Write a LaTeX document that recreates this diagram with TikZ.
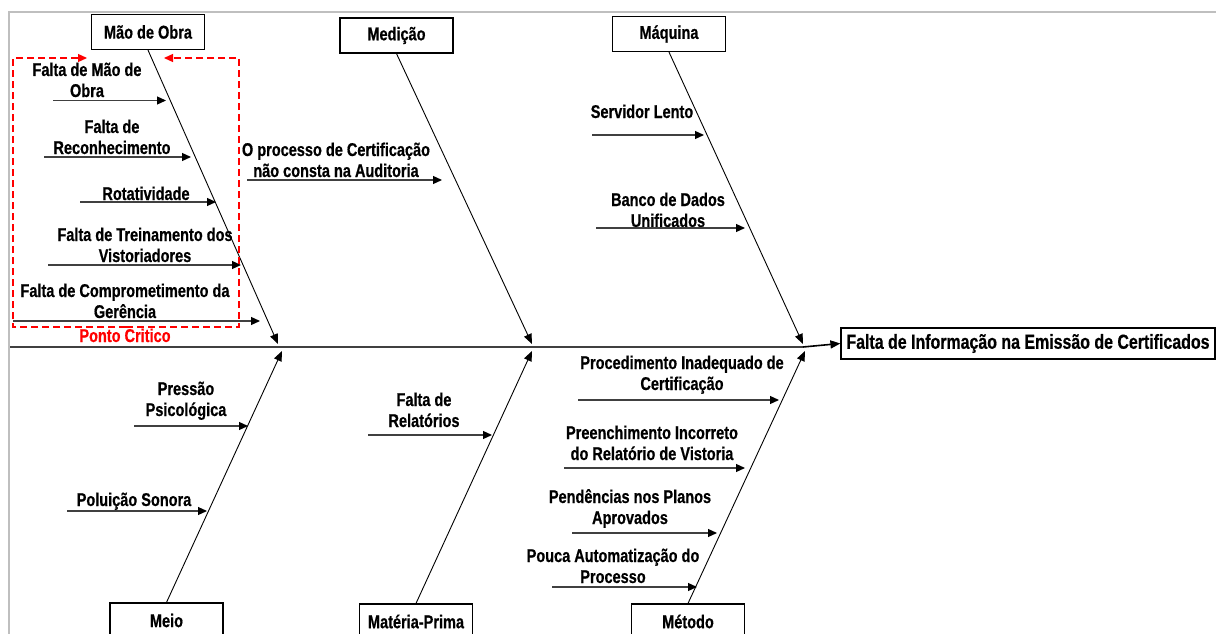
\documentclass[tikz,border=0pt]{standalone}
\usepackage{fontspec}
\setmainfont{Liberation Sans}[FakeStretch=0.78, BoldFont={Liberation Sans Bold}, BoldFeatures={FakeStretch=0.785, FakeBold=0.6}]
\usetikzlibrary{arrows.meta,positioning}

\tikzset{
  categ/.style={draw, line width=1.2pt, minimum width=113pt, minimum height=35pt, inner sep=2pt, font=\bfseries\fontsize{18.5}{21}\selectfont},
  efeito/.style={draw, line width=1.2pt, minimum width=374pt, minimum height=31pt, inner sep=2pt, font=\bfseries\fontsize{20.3}{22}\selectfont},
  causa/.style={anchor=base, align=center, inner sep=0pt, font=\bfseries\fontsize{18.5}{21}\selectfont},
  seta/.style={draw=black!75, line width=1.2pt, -{Triangle[length=9pt,width=8pt,color=black,fill=black]}},
  espinha/.style={line width=0.9pt, -{Triangle[length=10pt,width=8pt]}},
  critico/.style={draw=red, line width=1.2pt, dash pattern=on 7pt off 4pt, -{Triangle[length=9pt,width=8pt,fill=red]}},
}

\begin{document}
\begin{tikzpicture}[x=1pt,y=-1pt]
  \useasboundingbox (0,0) rectangle (1216,634);
  \clip (0,0) rectangle (1216,634);
  % moldura
  \draw[black!25, line width=2pt] (9,640) -- (9,12) -- (1220,12);

  % categorias
  \node[categ] (mobra) at (148,32) {Mão de Obra};
  \node[categ] (medicao) at (396.5,35.5) {Medição};
  \node[categ] (maquina) at (669,34) {Máquina};
  \node[categ] (meio) at (166.5,620.5) {Meio};
  \node[categ] (mprima) at (416,621.5) {Matéria-Prima};
  \node[categ] (metodo) at (688,621.5) {Método};
  \node[efeito] (efeito) at (1028,343.5) {Falta de Informação na Emissão de Certificados};

  % espinha principal
  \coordinate (inicio) at (10,347);
  \draw[black!75, line width=1.6pt] (inicio) -- (803,347);
  \draw[line width=1.6pt, -{Triangle[length=10pt,width=8pt]}] (803,347) -- (efeito.west);

  % espinhas
  \coordinate (mobra-p) at (278,344);
  \coordinate (medicao-p) at (532,344);
  \coordinate (maquina-p) at (803,344);
  \coordinate (meio-p) at (282,351);
  \coordinate (mprima-p) at (532,351);
  \coordinate (metodo-p) at (805,351);
  \draw[espinha] (mobra.south) -- (mobra-p);
  \draw[espinha] (medicao.south) -- (medicao-p);
  \draw[espinha] (maquina.south) -- (maquina-p);
  \draw[espinha] (meio.north) -- (meio-p);
  \draw[espinha] (mprima.north) -- (mprima-p);
  \draw[espinha] (metodo.north) -- (metodo-p);

  % causas
  \foreach \n/\cx/\by/\ay/\xa/\xb/\txt in {
      mo1/87/97/100.5/53/166/{Falta de Mão de\\Obra},
      mo2/112/154/157/44/191/{Falta de\\Reconhecimento},
      mo3/146/200/202/80/216/{Rotatividade},
      mo4/145/262/265/48/241/{Falta de Treinamento dos\\Vistoriadores},
      mo5/125/318/321/13/260/{Falta de Comprometimento da\\Gerência},
      me1/336/177/180/247/442/{O processo de Certificação\\não consta na Auditoria},
      ma1/642/118/135/592/704/{Servidor Lento},
      ma2/668/227/228/596/745/{Banco de Dados\\Unificados},
      mei1/186/416/426/134/248/{Pressão\\Psicológica},
      mei2/134/506/511/67/207/{Poluição Sonora},
      mp1/424/427/435/368/492/{Falta de\\Relatórios},
      met1/682/390/400/578/779/{Procedimento Inadequado de\\Certificação},
      met2/652/460/468/564/745/{Preenchimento Incorreto\\do Relatório de Vistoria},
      met3/630/524/533/572/717/{Pendências nos Planos\\Aprovados},
      met4/613/583/587/552/697/{Pouca Automatização do\\Processo}}
  {
    \node[causa] (\n) at (\cx,\by) {\txt};
    \draw[seta] (\xa,\ay) coordinate (\n-a) -- (\xb,\ay) coordinate (\n-b);
  }

  % ponto critico
  \node[causa, text=red] (critico) at (125,342) {Ponto Critico};
  \coordinate (crit-b) at (126,327);
  \draw[critico] (crit-b) -- (13,327) -- (13,58) -- (87,58);
  \draw[critico] (crit-b) -- (239,327) -- (239,58) -- (164,58);
\end{tikzpicture}
\end{document}
